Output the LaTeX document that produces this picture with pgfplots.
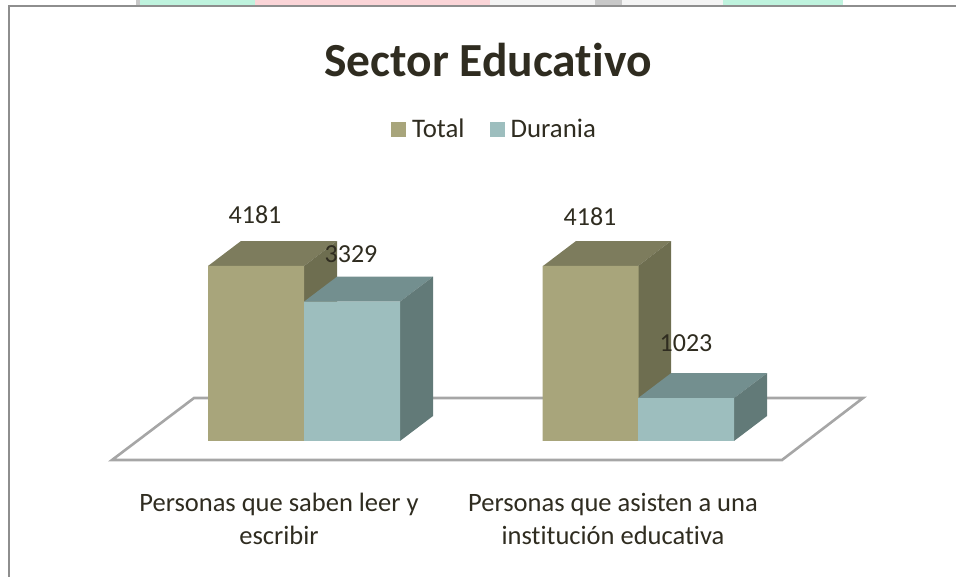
\documentclass[border=0pt]{standalone}
\usepackage{fontspec}
\setmainfont[Ligatures=NoCommon]{Carlito}
\usepackage{pgfplots}
\pgfplotsset{compat=1.18}
\definecolor{txt}{HTML}{2F2C20}
\definecolor{tf}{HTML}{A8A57B}
\definecolor{tt}{HTML}{7D7C5D}
\definecolor{ts}{HTML}{6E6E50}
\definecolor{df}{HTML}{9DBEBE}
\definecolor{dt}{HTML}{738F8F}
\definecolor{ds}{HTML}{627A78}
\definecolor{fl}{HTML}{A6A6A6}
\definecolor{bd}{HTML}{8E8E8E}
\definecolor{mint}{HTML}{BFF3DE}
\definecolor{pk}{HTML}{FBD5D8}
\definecolor{og}{HTML}{F4F4F4}
\definecolor{lg}{HTML}{C8C8C8}
\pgfplotsset{sq/.style={legend image code/.code={\fill[##1,draw=none] (0pt,-7.5pt) rectangle (15pt,7.5pt);}}}
\begin{document}
\begin{tikzpicture}
\path[use as bounding box] (0pt,0pt) rectangle (956pt,577pt);
\begin{axis}[
  at={(0pt,0pt)}, anchor=south west,
  width=956pt, height=577pt, scale only axis,
  xmin=0, xmax=956, ymin=-3249, ymax=10536,
  hide axis, clip=false,
  legend columns=2,
  legend style={at={(axis cs:494.5,7450)}, anchor=center, draw=none, fill=none,
    font=\fontsize{26.8}{30}\selectfont\color{txt}, inner sep=0pt,
    /tikz/every odd column/.append style={column sep=4pt},
    /tikz/every even column/.append style={column sep=23pt}},
  legend cell align=left,
]
% top strips
\fill[fill=lg] (axis cs:136,10536) rectangle (axis cs:140,10417);
\fill[fill=mint] (axis cs:140,10536) rectangle (axis cs:255,10417);
\fill[fill=pk] (axis cs:255,10536) rectangle (axis cs:490,10417);
\fill[fill=og] (axis cs:490,10536) rectangle (axis cs:595,10417);
\fill[fill=lg] (axis cs:595,10536) rectangle (axis cs:622,10417);
\fill[fill=og] (axis cs:622,10536) rectangle (axis cs:723,10417);
\fill[fill=mint] (axis cs:723,10536) rectangle (axis cs:843,10417);
% border
\draw[bd, line width=2.6pt] (axis cs:9,-3249) -- (axis cs:9,10393) -- (axis cs:956,10393);
% floor
\addplot[forget plot, draw=fl, line width=2.6pt, fill=white] coordinates {(112,-454)(782,-454)(863,1027)(194,1027)} --cycle;
% bar 1 depth
\addplot[forget plot, fill=tt, draw=none] coordinates {(208,4181)(241,4778)(337,4778)(304,4181)} --cycle;
\addplot[forget plot, fill=ts, draw=none] coordinates {(304,0)(337,597)(337,4778)(304,4181)} --cycle;
% bar 2 depth
\addplot[forget plot, fill=dt, draw=none] coordinates {(304,3329)(337,3926)(433,3926)(400,3329)} --cycle;
\addplot[forget plot, fill=ds, draw=none] coordinates {(400,0)(433,597)(433,3926)(400,3329)} --cycle;
% bar 3 depth
\addplot[forget plot, fill=tt, draw=none] coordinates {(543,4181)(576,4778)(671,4778)(638,4181)} --cycle;
\addplot[forget plot, fill=ts, draw=none] coordinates {(638,0)(671,597)(671,4778)(638,4181)} --cycle;
% bar 4 depth
\addplot[forget plot, fill=dt, draw=none] coordinates {(638,1023)(671,1620)(767,1620)(734,1023)} --cycle;
\addplot[forget plot, fill=ds, draw=none] coordinates {(734,0)(767,597)(767,1620)(734,1023)} --cycle;
% front faces
\addplot[ybar, bar width=96pt, bar shift=0pt, fill=tf, draw=none, sq] coordinates {(256,4181)(590.5,4181)};
\addplot[ybar, bar width=96pt, bar shift=0pt, fill=df, draw=none, sq] coordinates {(352,3329)(686,1023)};
\legend{Total,Durania}
% labels
\node[txt, font=\fontsize{47.5}{50}\selectfont\bfseries] at (axis cs:488,9102) {Sector Educativo};
\node[txt, font=\fontsize{26}{30}\selectfont] at (axis cs:255,5400) {4181};
\node[txt, font=\fontsize{26}{30}\selectfont] at (axis cs:351,4470) {3329};
\node[txt, font=\fontsize{26}{30}\selectfont] at (axis cs:590,5370) {4181};
\node[txt, font=\fontsize{26}{30}\selectfont] at (axis cs:686,2340) {1023};
\node[txt, font=\fontsize{26.5}{33}\selectfont, align=center] at (axis cs:279,-1860) {Personas que saben leer y\\escribir};
\node[txt, font=\fontsize{26.5}{33}\selectfont, align=center] at (axis cs:613,-1860) {Personas que asisten a una\\institución educativa};
\end{axis}
\end{tikzpicture}
\end{document}
